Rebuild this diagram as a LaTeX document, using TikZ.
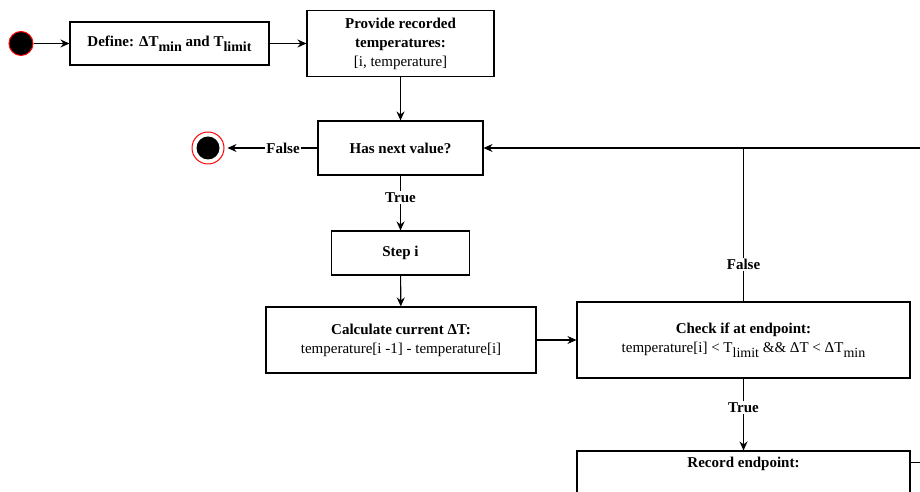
\documentclass[tikz,border=0pt]{standalone}
\usepackage{fontspec}
\setmainfont{Liberation Serif}
\usetikzlibrary{arrows.meta,positioning}
\tikzset{
  box/.style={draw, line width=1.1pt, align=center, inner sep=2pt, font=\fontsize{15}{19}\selectfont},
  flow/.style={draw, line width=1.1pt, -{Stealth[length=9pt,width=8pt]}},
  edgelabel/.style={fill=white, inner sep=1.5pt, font=\bfseries\fontsize{15}{18}\selectfont},
}
\newcommand{\lowsub}[1]{\raisebox{-0.35em}{\fontsize{14}{14}\selectfont #1}}

\begin{document}
\begin{tikzpicture}[x=1pt,y=1pt]
  \clip (0,0) rectangle (920,492);

  \node [circle, fill=black, draw=red, line width=1pt, minimum size=24pt, inner sep=0pt] (start) at (21,448.5) {};
  \node [box, minimum width=199pt, minimum height=43pt] (define) at (169.5,448.5) {\textbf{Define: ΔT\lowsub{min} and T\lowsub{limit}}};
  \node [box, minimum width=187pt, minimum height=66pt] (provide) at (400.5,448.5) {\textbf{Provide recorded}\\\textbf{temperatures:}\\{}[i, temperature]};
  \node [box, minimum width=165pt, minimum height=54pt] (hasnext) at (400.5,344) {\textbf{Has next value?}};
  \node [circle, draw=red, line width=1pt, minimum size=32pt, inner sep=0pt] (stop) at (208,344) {};
  \node [circle, fill=black, minimum size=23pt, inner sep=0pt] (stopdot) at (stop) {};
  \node [box, minimum width=138pt, minimum height=44pt] (step) at (400.5,239) {\textbf{Step i}};
  \node [box, minimum width=270pt, minimum height=66pt] (calc) at (401,152) {\textbf{Calculate current ΔT:}\\temperature[i -1] - temperature[i]};
  \node [box, minimum width=333pt, minimum height=76pt] (check) at (743.5,152) {\textbf{Check if at endpoint:}\\temperature[i] < T\lowsub{limit} \&\& ΔT < ΔT\lowsub{min}};
  \node [box, minimum width=333pt, minimum height=90pt] (record) at (743.5,-4) {};
  \node [font=\bfseries\fontsize{15}{18}\selectfont] (recordtitle) at ([yshift=-13pt]record.north) {Record endpoint:};

  \draw [flow] (start) -- (define);
  \draw [flow] (define) -- (provide);
  \draw [flow] (provide) -- (hasnext);
  \draw [flow, shorten >=3pt] (hasnext) -- node [edgelabel, pos=0.37] {False} (stop);
  \draw [flow] (hasnext) -- node [edgelabel, pos=0.4] {True} (step);
  \draw [flow] (step) -- (calc);
  \draw [flow] (calc) -- (check);
  \draw [flow] (check) -- node [edgelabel, pos=0.4] {True} (record);
  % loop back to the test
  \draw [flow] ([yshift=-12pt]record.north east) -- ++(30,0) |- (hasnext.east);
  \draw [line width=1.1pt] (check.north) -- node [edgelabel, pos=0.24] {False} (check.north |- hasnext.east);
\end{tikzpicture}
\end{document}
